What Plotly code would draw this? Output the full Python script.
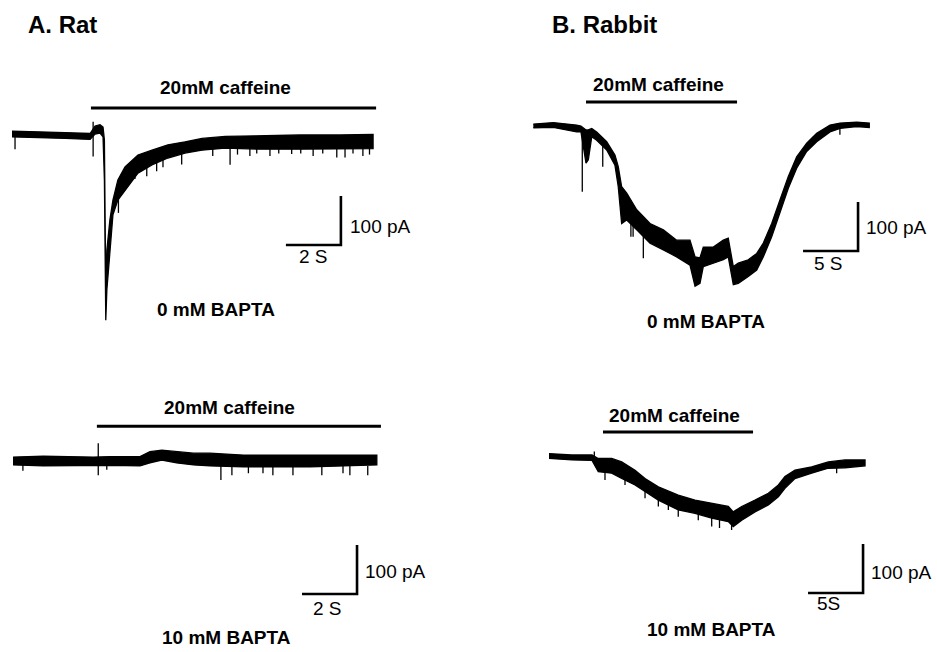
import plotly.graph_objects as go

# ---------------- data (time in s, current in pA) ----------------
# A. Rat, 0 mM BAPTA : noise envelope of the current trace
rat0_t  = [0.00, 1.02, 1.93, 2.84, 3.02, 3.20, 3.31, 3.36, 3.41, 3.45, 3.56, 3.67, 3.85, 4.11,
           4.58, 5.09, 5.67, 6.29, 6.91, 7.75, 9.02, 10.47, 11.93, 13.13]
rat0_hi = [6, 5, 3, 1, 16, 19, 14, -12, -318, -237, -175, -135, -94, -67,
           -43, -33, -22, -16, -9, -5, -3, -2, -2, -1]
rat0_lo = [-6, -7, -9, -11, 0, 2, -6, -94, -380, -318, -237, -165, -135, -114,
           -80, -63, -49, -39, -33, -29, -31, -31, -31, -30]
rat0_spk_t   = [0.11, 2.95, 3.87, 4.47, 4.90, 5.26, 5.49, 6.17, 7.30, 7.93, 8.20, 8.65, 8.90, 9.38,
                9.70, 10.17, 10.50, 10.95, 11.30, 11.81, 12.11, 12.40, 12.76, 13.00]
rat0_spk_top = [-6, 25, -130, -75, -60, -50, -44, -36, -28, -28, -28, -28, -28, -28,
                -28, -28, -28, -28, -28, -28, -28, -28, -28, -28]
rat0_spk_bot = [-31, -46, -161, -92, -86, -76, -68, -62, -45, -63, -42, -45, -40, -45,
                -40, -41, -40, -45, -40, -48, -48, -40, -45, -42]

# A. Rat, 10 mM BAPTA
rat10_t  = [0.00, 1.10, 2.92, 3.53, 4.62, 4.98, 5.41, 5.95, 6.56, 7.16, 8.38, 9.59, 10.80, 12.01, 13.23]
rat10_hi = [8, 10, 8, 9, 9, 19, 22, 19, 16, 16, 12, 12, 12, 12, 12]
rat10_lo = [-8, -10, -9, -9, -10, -4, 2, -4, -8, -10, -12, -12, -12, -10, -8]
rat10_spk_t   = [0.36, 3.10, 3.41, 7.56, 7.96, 8.56, 9.09, 9.45, 10.18, 11.23, 12.00, 12.25, 12.90]
rat10_spk_top = [-8, 36, -9, -10, -10, -10, -10, -10, -10, -10, -10, -10, -10]
rat10_spk_bot = [-20, -29, -18, -39, -29, -25, -25, -29, -29, -29, -25, -29, -29]

# B. Rabbit, 0 mM BAPTA
rab0_t  = [0.03, 1.85, 3.97, 4.36, 4.82, 5.03, 5.34, 5.79, 6.70, 7.45,
           7.75, 8.06, 8.52, 9.43, 10.64, 11.85, 13.06, 14.27, 14.73, 15.18,
           15.48, 16.39, 17.30, 17.75, 18.21, 18.66, 19.57, 20.34, 20.94, 21.70,
           22.45, 23.21, 23.97, 24.88, 25.79, 27.00, 27.91, 29.43, 30.57]
rab0_hi = [4, 7, 2, 0, -8, -8, -5, -12, -32, -59,
           -83, -124, -137, -171, -199, -212, -233, -233, -267, -269,
           -247, -247, -233, -229, -287, -280, -273, -260, -239, -199,
           -151, -103, -63, -35, -15, 2, 6, 8, 6]
rab0_lo = [-4, -3, -12, -12, -76, -69, -22, -29, -49, -80,
           -124, -199, -192, -212, -239, -253, -267, -284, -327, -321,
           -287, -280, -273, -267, -324, -321, -307, -294, -267, -226,
           -178, -127, -86, -52, -32, -12, -5, -1, -3]
rab0_spk_t   = [4.48, 6.34, 8.90, 9.10, 10.03, 27.90]
rab0_spk_top = [-10, -25, -190, -190, -210, -3]
rab0_spk_bot = [-134, -83, -226, -226, -270, -18]

# B. Rabbit, 10 mM BAPTA
rab10_t  = [0.00, 2.06, 3.91, 4.48, 5.70, 6.61, 7.82, 8.73, 9.94, 11.75, 13.27, 14.79,
            16.30, 16.75, 17.52, 18.73, 19.94, 20.85, 21.45, 22.36, 23.88, 25.39, 26.91, 28.73]
rab10_hi = [5, 2, 2, -5, -5, -12, -29, -46, -63, -80, -90, -97,
            -103, -114, -103, -90, -76, -59, -42, -29, -22, -12, -8, -8]
rab10_lo = [-5, -8, -9, -32, -35, -46, -59, -73, -90, -110, -117, -127,
            -134, -144, -131, -114, -100, -83, -66, -46, -35, -25, -24, -20]
rab10_spk_t   = [4.12, 5.09, 6.91, 8.73, 9.94, 10.85, 11.75, 13.57, 14.79, 15.50, 16.60, 26.15]
rab10_spk_top = [9, -30, -45, -70, -88, -100, -108, -115, -125, -130, -138, -22]
rab10_spk_bot = [0, -49, -59, -86, -103, -110, -124, -131, -144, -147, -151, -35]

# caffeine application bars: start, end, level (pA)
caff_start = [2.87, 3.05, 4.82, 4.91]
caff_end   = [13.24, 13.38, 18.55, 18.55]
caff_level = [53, 71, 49, 49]

# scale bars: corner (t, I), time length (s), current length (pA)
sb_t   = [11.96, 12.51, 29.55, 28.55]
sb_I   = [-226.5, -271.4, -255.0, -279.6]
sb_len_t = [2, 2, 5, 5]
sb_len_I = [100, 100, 100, 100]
sb_time_labels = ["2 S", "2 S", "5 S", "5S"]
sb_curr_labels = ["100 pA", "100 pA", "100 pA", "100 pA"]
cond_labels = ["0 mM BAPTA", "10 mM BAPTA", "0 mM BAPTA", "10 mM BAPTA"]
caff_label = "20mM caffeine"
panel_titles = ["A. Rat", "B. Rabbit"]

# ---------------- layout geometry (pixels) ----------------
W, H = 937, 652
# box: left, right, top, bottom ; origin pixel of t=0 / I=0 ; px per s ; px per pA
geo = [
    dict(box=(0, 470, 50, 350), org=(12, 134), sx=27.5, sy=0.49),
    dict(box=(0, 470, 380, 652), org=(13, 461), sx=27.5, sy=0.49),
    dict(box=(470, 937, 50, 350), org=(533, 126), sx=11.0, sy=0.49),
    dict(box=(470, 937, 380, 652), org=(549, 456), sx=11.0, sy=0.49),
]
# label positions in data units (t, I)
caff_lab_pos = [(7.75, 94), (7.89, 110), (11.45, 84), (11.45, 82)]
cond_lab_pos = [(7.42, -359), (7.78, -361), (15.73, -398), (14.73, -355)]
tlab_pos = [(10.95, -249), (11.45, -300), (26.9, -280), (25.45, -300)]
ilab_pos = [(12.22, -188), (12.73, -226.5), (30.09, -208), (29.09, -237)]

traces = [
    (rat0_t, rat0_hi, rat0_lo, rat0_spk_t, rat0_spk_top, rat0_spk_bot),
    (rat10_t, rat10_hi, rat10_lo, rat10_spk_t, rat10_spk_top, rat10_spk_bot),
    (rab0_t, rab0_hi, rab0_lo, rab0_spk_t, rab0_spk_top, rab0_spk_bot),
    (rab10_t, rab10_hi, rab10_lo, rab10_spk_t, rab10_spk_top, rab10_spk_bot),
]

FONT = "Liberation Sans, Arial, Helvetica, sans-serif"
LS = 19
fig = go.Figure()
annotations = []
layout_axes = {}

for i, (g, tr) in enumerate(zip(geo, traces)):
    n = "" if i == 0 else str(i + 1)
    xa, ya = "x" + n, "y" + n
    l, r, tp, bt = g["box"]
    x0, y0 = g["org"]
    xr = [(l - x0) / g["sx"], (r - x0) / g["sx"]]
    yr = [(y0 - bt) / g["sy"], (y0 - tp) / g["sy"]]
    layout_axes["xaxis" + n] = dict(domain=[l / W, r / W], range=xr, visible=False,
                                    fixedrange=True, anchor=ya)
    layout_axes["yaxis" + n] = dict(domain=[1 - bt / H, 1 - tp / H], range=yr, visible=False,
                                    fixedrange=True, anchor=xa)

    t, hi, lo, st, stop, sbot = tr
    # noise band of the current trace
    fig.add_trace(go.Scatter(x=list(t) + list(t)[::-1], y=list(hi) + list(lo)[::-1],
                             mode="lines", fill="toself", fillcolor="black",
                             line=dict(color="black", width=1.3),
                             xaxis=xa, yaxis=ya, hoverinfo="skip", showlegend=False))
    # individual spikes
    sx_, sy_ = [], []
    for a, b, c in zip(st, stop, sbot):
        sx_ += [a, a, None]
        sy_ += [b, c, None]
    fig.add_trace(go.Scatter(x=sx_, y=sy_, mode="lines", line=dict(color="black", width=1.3),
                             xaxis=xa, yaxis=ya, hoverinfo="skip", showlegend=False))
    # caffeine bar
    fig.add_trace(go.Scatter(x=[caff_start[i], caff_end[i]], y=[caff_level[i]] * 2, mode="lines",
                             line=dict(color="black", width=3), xaxis=xa, yaxis=ya,
                             hoverinfo="skip", showlegend=False))
    # scale bar
    fig.add_trace(go.Scatter(x=[sb_t[i] - sb_len_t[i], sb_t[i], sb_t[i]],
                             y=[sb_I[i], sb_I[i], sb_I[i] + sb_len_I[i]], mode="lines",
                             line=dict(color="black", width=2.6), xaxis=xa, yaxis=ya,
                             hoverinfo="skip", showlegend=False))
    annotations += [
        dict(x=caff_lab_pos[i][0], y=caff_lab_pos[i][1], xref=xa, yref=ya, text="<b>%s</b>" % caff_label,
             showarrow=False, xanchor="center", yanchor="middle", font=dict(size=LS, family=FONT, color="black")),
        dict(x=cond_lab_pos[i][0], y=cond_lab_pos[i][1], xref=xa, yref=ya, text="<b>%s</b>" % cond_labels[i],
             showarrow=False, xanchor="center", yanchor="middle", font=dict(size=LS, family=FONT, color="black")),
        dict(x=tlab_pos[i][0], y=tlab_pos[i][1], xref=xa, yref=ya, text=sb_time_labels[i],
             showarrow=False, xanchor="center", yanchor="middle", font=dict(size=LS, family=FONT, color="black")),
        dict(x=ilab_pos[i][0], y=ilab_pos[i][1], xref=xa, yref=ya, text=sb_curr_labels[i],
             showarrow=False, xanchor="left", yanchor="middle", font=dict(size=LS, family=FONT, color="black")),
    ]

annotations += [
    dict(x=26 / W, y=1 - 24 / H, xref="paper", yref="paper", text="<b>%s</b>" % panel_titles[0],
         showarrow=False, xanchor="left", yanchor="middle", font=dict(size=24, family=FONT, color="black")),
    dict(x=550 / W, y=1 - 24 / H, xref="paper", yref="paper", text="<b>%s</b>" % panel_titles[1],
         showarrow=False, xanchor="left", yanchor="middle", font=dict(size=24, family=FONT, color="black")),
]

fig.update_layout(width=W, height=H, autosize=False, margin=dict(l=0, r=0, t=0, b=0),
                  paper_bgcolor="white", plot_bgcolor="rgba(0,0,0,0)",
                  annotations=annotations, showlegend=False, **layout_axes)
fig.write_html("out.html", config=dict(displayModeBar=False))
